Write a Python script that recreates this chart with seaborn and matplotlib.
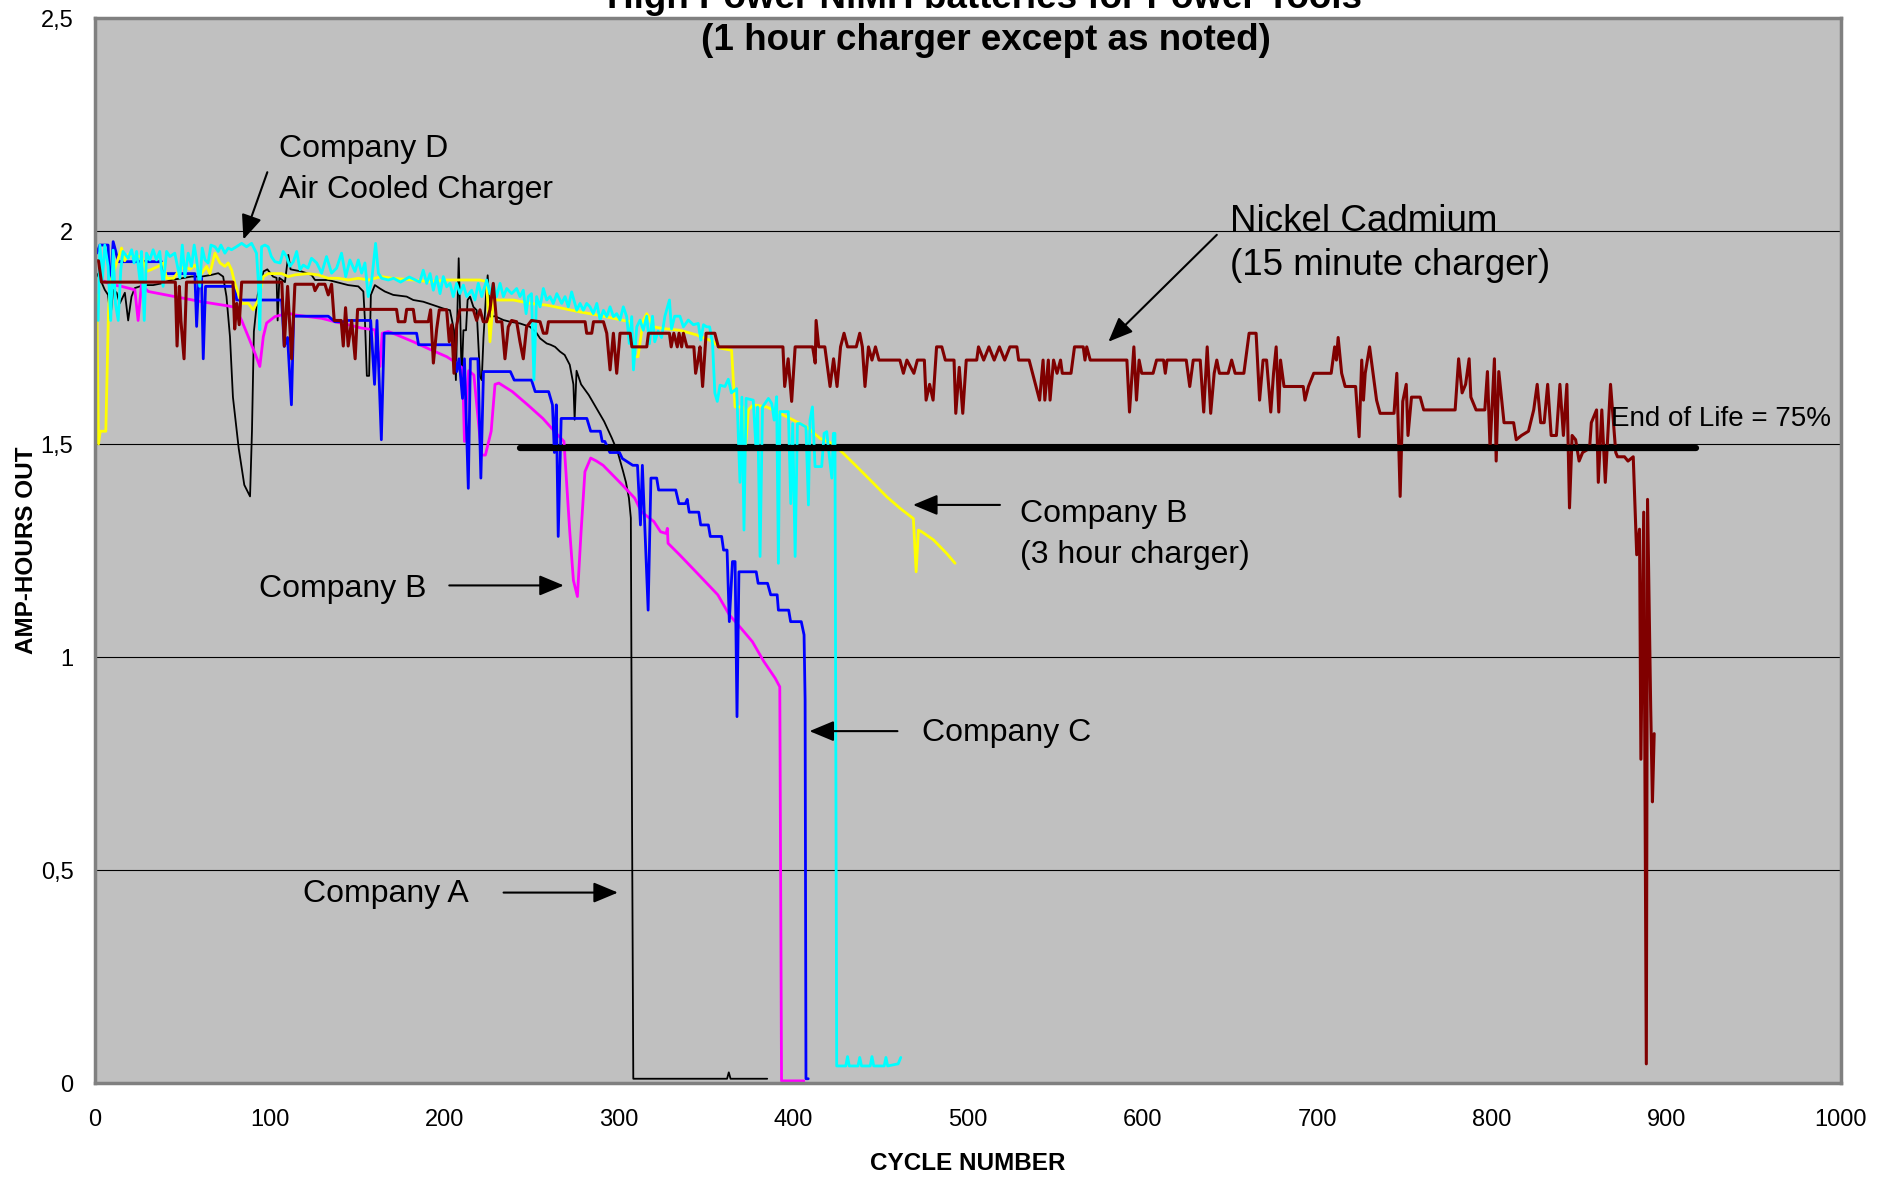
import matplotlib
matplotlib.use("Agg")
import matplotlib.pyplot as plt
import pandas as pd
import seaborn as sns

# ---------------- data (cycle number, amp-hours out) ----------------
company_a = [
    (1, 1.90), (3.7, 1.88), (5.6, 1.862), (7.5, 1.85), (8.8, 1.795), (10.4, 1.862), (12.4, 1.855),
    (14.2, 1.83), (17.1, 1.855), (19, 1.79), (20.9, 1.846), (22.8, 1.866), (25.7, 1.87), (28.6, 1.873),
    (33.3, 1.873), (38.1, 1.877), (43.8, 1.885), (49.6, 1.889), (55.3, 1.893), (61, 1.893), (66.7, 1.897),
    (70.6, 1.901), (73.4, 1.893), (75.3, 1.846), (77.3, 1.752), (79, 1.61), (82.3, 1.49), (85.5, 1.404),
    (88.8, 1.377), (89.9, 1.53), (91, 1.764), (93.2, 1.85), (96.5, 1.905), (98.7, 1.91), (102, 1.893),
    (104, 1.89), (104.6, 1.79), (105.6, 1.89), (108.8, 1.88), (110.7, 1.944), (112, 1.91), (118.3, 1.905),
    (124, 1.897), (126, 1.885), (133.6, 1.885), (137.4, 1.881), (145, 1.873), (150.8, 1.87), (153.7, 1.858),
    (154.6, 1.79), (155.7, 1.66), (157, 1.66), (158, 1.85), (160.3, 1.873), (163.2, 1.865), (166, 1.858),
    (170.8, 1.85), (178.5, 1.846), (182.3, 1.838), (188, 1.834), (193.8, 1.826), (199.5, 1.818),
    (203.3, 1.814), (205.6, 1.767), (206.7, 1.65), (207.5, 1.80), (208.3, 1.936), (209.2, 1.80), (210, 1.65),
    (211, 1.767), (212.5, 1.767), (213.4, 1.838), (214.8, 1.846), (216.7, 1.822), (218.6, 1.814),
    (220.5, 1.658), (221.5, 1.65), (222.5, 1.75), (223.9, 1.846), (224.9, 1.896), (226.2, 1.799),
    (229.1, 1.80), (233.9, 1.791), (237.7, 1.787), (243.4, 1.783), (249.2, 1.775), (253, 1.76),
    (254.9, 1.748), (258.7, 1.736), (260.9, 1.733), (263.5, 1.728), (266.3, 1.717), (269, 1.709),
    (271.9, 1.686), (274, 1.64), (274.7, 1.557), (275.8, 1.672), (278.4, 1.64), (282.8, 1.615),
    (287.2, 1.584), (291.6, 1.553), (296, 1.514), (299.3, 1.482), (302.5, 1.435), (304.1, 1.41),
    (305.8, 1.373), (306.9, 1.326), (307.6, 0.6), (308.3, 0.01), (362, 0.01), (363, 0.025), (364, 0.01),
    (385, 0.01),
]

company_b = [
    (3.7, 1.885), (9.4, 1.874), (15.2, 1.87), (19, 1.866), (22.8, 1.862), (24.7, 1.79), (26.6, 1.874),
    (30.5, 1.858), (38.1, 1.852), (45.7, 1.846), (53.4, 1.84), (61, 1.834), (68.7, 1.829), (76.3, 1.824),
    (80.1, 1.821), (84, 1.79), (87.8, 1.752), (91.6, 1.713), (94.4, 1.682), (96.4, 1.752), (98.3, 1.784),
    (103, 1.799), (106.9, 1.803), (110.7, 1.807), (114.5, 1.803), (122.1, 1.799), (129.8, 1.795),
    (137.4, 1.787), (145, 1.78), (152.7, 1.772), (160.3, 1.768), (163.2, 1.682), (164.5, 1.76),
    (168, 1.764), (171.8, 1.758), (182.3, 1.74), (191.9, 1.722), (201.4, 1.705), (206, 1.693),
    (210.5, 1.678), (211.6, 1.506), (212.7, 1.60), (214, 1.672), (217, 1.662), (221.4, 1.474),
    (223.6, 1.474), (226.9, 1.53), (229.1, 1.64), (231.3, 1.643), (239, 1.623), (247.8, 1.592),
    (256.5, 1.56), (265.3, 1.52), (268.6, 1.506), (271.9, 1.295), (274, 1.18), (276.3, 1.142),
    (278.4, 1.295), (280.6, 1.435), (283.9, 1.467), (287.2, 1.46), (291, 1.45), (298.2, 1.42),
    (302, 1.404), (309.1, 1.373), (312.9, 1.341), (320.1, 1.318), (323.9, 1.294), (327.1, 1.29),
    (327.8, 1.302), (328.2, 1.267), (334.8, 1.24), (345.8, 1.193), (356.7, 1.146), (363.3, 1.099),
    (369.9, 1.068), (376.5, 1.036), (383, 0.99), (389.6, 0.95), (392.2, 0.93), (393.2, 0.005),
    (406, 0.005),
]

company_c = [
    (1, 1.948), (2.8, 1.967), (7.5, 1.967), (8.5, 1.846), (10.4, 1.975), (11.7, 1.955), (13.3, 1.928),
    (38.1, 1.928), (39, 1.90), (57.2, 1.90), (58.2, 1.776), (59.5, 1.89), (61, 1.89), (62, 1.70),
    (63.3, 1.87), (80.1, 1.87), (81.1, 1.838), (106.9, 1.838), (108.4, 1.729), (110.3, 1.75),
    (112.5, 1.592), (113.8, 1.80), (133.6, 1.80), (137.4, 1.787), (142.2, 1.787), (144.7, 1.79),
    (157.9, 1.79), (160.1, 1.64), (161.5, 1.79), (164, 1.51), (165.6, 1.76), (184.2, 1.76),
    (185.3, 1.733), (205, 1.733), (207.2, 1.67), (208.5, 1.70), (210.5, 1.607), (211.6, 1.70),
    (213.8, 1.396), (215, 1.70), (219.3, 1.70), (221, 1.42), (222.5, 1.67), (237.9, 1.67), (240.1, 1.65),
    (250, 1.65), (252.1, 1.623), (259.8, 1.623), (262, 1.592), (263.1, 1.48), (264.2, 1.592),
    (265.3, 1.283), (267, 1.56), (281.7, 1.56), (283.9, 1.53), (289.4, 1.53), (290.5, 1.506),
    (292, 1.506), (294.9, 1.48), (300.4, 1.48), (302, 1.466), (308, 1.45), (310.7, 1.45), (312.4, 1.31),
    (313.5, 1.45), (316.8, 1.11), (318.4, 1.42), (321.7, 1.42), (322.8, 1.392), (332.6, 1.392),
    (334.4, 1.36), (338.1, 1.36), (339.2, 1.37), (340.3, 1.34), (345.8, 1.34), (346.9, 1.31),
    (351.3, 1.31), (352.4, 1.283), (358.9, 1.283), (360, 1.251), (362, 1.251), (363.3, 1.083),
    (365.1, 1.224), (366.6, 1.224), (367.7, 0.86), (368.8, 1.20), (378.7, 1.20), (379.8, 1.173),
    (385.2, 1.173), (387, 1.146), (390.7, 1.146), (391.4, 1.11), (397.3, 1.11), (398.4, 1.083),
    (404.5, 1.083), (406.1, 1.052), (406.7, 0.90), (407.2, 0.01), (408.5, 0.01),
]

company_b_3h = [
    (1, 1.85), (2, 1.50), (3, 1.53), (6.2, 1.53), (7.7, 1.81), (8.8, 1.88), (12, 1.92), (15.2, 1.96),
    (17, 1.93), (19, 1.945), (22, 1.94), (26.6, 1.94), (29.5, 1.905), (32.5, 1.91), (36.2, 1.917),
    (39, 1.925), (41, 1.889), (45, 1.889), (48.6, 1.91), (51.5, 1.917), (54.4, 1.91), (57.2, 1.92),
    (61, 1.90), (63.9, 1.917), (65.8, 1.90), (68.7, 1.948), (71.6, 1.925), (74.4, 1.917), (76.3, 1.925),
    (78.2, 1.909), (80.1, 1.877), (84, 1.83), (87.8, 1.83), (90.6, 1.815), (93.5, 1.838), (96.4, 1.893),
    (99.2, 1.90), (106.9, 1.90), (110.7, 1.893), (114.5, 1.897), (122, 1.90), (127.8, 1.897),
    (133.6, 1.889), (139.3, 1.889), (145, 1.885), (150.8, 1.889), (156.5, 1.885), (164, 1.893),
    (170, 1.889), (182.3, 1.885), (191.9, 1.881), (201.4, 1.885), (211, 1.885), (220.5, 1.885),
    (224.3, 1.881), (226.2, 1.74), (228.1, 1.838), (239.6, 1.838), (249.2, 1.83), (258.7, 1.826),
    (268.3, 1.818), (277.8, 1.81), (287.4, 1.803), (296.9, 1.795), (306.5, 1.787), (308.4, 1.705),
    (311, 1.705), (314, 1.79), (316, 1.806), (319.8, 1.775), (325.5, 1.771), (335, 1.767),
    (344.6, 1.756), (354.2, 1.74), (358, 1.725), (364.6, 1.72), (365.6, 1.65), (366.6, 1.587),
    (371, 1.587), (372.3, 1.478), (374.2, 1.58), (377, 1.592), (384.7, 1.587), (392.3, 1.572),
    (400, 1.556), (407.6, 1.54), (415.3, 1.513), (422.9, 1.50), (428.6, 1.478), (436.3, 1.447),
    (445.8, 1.408), (453.5, 1.376), (461.1, 1.349), (468.7, 1.325), (470.3, 1.20), (471.6, 1.298),
    (473.5, 1.294), (480.2, 1.275), (487.8, 1.243), (492.6, 1.22),
]

company_d = [
    (1.8, 1.79), (2.8, 1.967), (4.2, 1.885), (5.6, 1.967), (7.5, 1.917), (9, 1.79), (10.4, 1.955),
    (11.7, 1.83), (13.3, 1.79), (14.8, 1.91), (16, 1.952), (19, 1.936), (21, 1.956), (22.4, 1.925),
    (23.8, 1.952), (25.7, 1.885), (26.6, 1.952), (28.2, 1.79), (29.5, 1.948), (31.4, 1.932),
    (33.3, 1.956), (35.2, 1.932), (37.1, 1.952), (39, 1.87), (41, 1.952), (42.9, 1.94), (45.7, 1.948),
    (48.6, 1.89), (50, 1.967), (51.5, 1.893), (53.4, 1.948), (55.3, 1.917), (56.8, 1.967), (58.2, 1.932),
    (60, 1.87), (61.4, 1.96), (63, 1.932), (64.8, 1.925), (66.4, 1.967), (68.7, 1.963), (70.6, 1.952),
    (72.1, 1.967), (74.4, 1.948), (76.3, 1.96), (78.2, 1.956), (81, 1.963), (84, 1.971), (86.8, 1.963),
    (89.7, 1.971), (92.5, 1.948), (93.5, 1.885), (94.4, 1.768), (95.4, 1.963), (97.3, 1.967),
    (99.2, 1.963), (101, 1.94), (103, 1.928), (106, 1.925), (107.8, 1.952), (109.7, 1.94), (111.6, 1.917),
    (113.6, 1.928), (115.5, 1.952), (117.4, 1.909), (119.3, 1.92), (122, 1.913), (124, 1.936),
    (127, 1.925), (129.8, 1.901), (132.6, 1.94), (135.5, 1.901), (138.4, 1.913), (141.2, 1.948),
    (143.6, 1.893), (146, 1.932), (148.9, 1.905), (150.8, 1.932), (152.7, 1.901), (154.6, 1.925),
    (156.5, 1.846), (158.5, 1.885), (160.7, 1.971), (162.3, 1.901), (164.2, 1.889), (168, 1.885),
    (171, 1.889), (175, 1.88), (180, 1.892), (186, 1.88), (188, 1.908), (190, 1.877), (191.9, 1.90),
    (193.8, 1.861), (195.7, 1.893), (197.6, 1.853), (199.5, 1.893), (201.4, 1.869), (203.3, 1.877),
    (205.2, 1.846), (207.1, 1.877), (209, 1.853), (211, 1.873), (212.9, 1.846), (215.7, 1.861),
    (217.6, 1.838), (219.5, 1.877), (221.5, 1.846), (224.3, 1.885), (226.2, 1.853), (228.1, 1.877),
    (230, 1.846), (232, 1.877), (233.9, 1.846), (235.8, 1.865), (238.6, 1.853), (241.5, 1.865),
    (243.4, 1.846), (245.3, 1.861), (246.9, 1.806), (248.2, 1.846), (250, 1.853), (251.4, 1.65),
    (252.9, 1.846), (254.9, 1.822), (256.8, 1.865), (258.7, 1.838), (260.6, 1.846), (262.5, 1.83),
    (264.5, 1.853), (267.3, 1.83), (269.2, 1.846), (271.1, 1.822), (273, 1.857), (275.9, 1.814),
    (277.8, 1.83), (279.7, 1.814), (281.6, 1.83), (283.5, 1.822), (285.4, 1.806), (287.4, 1.83),
    (289.3, 1.791), (291.2, 1.814), (293.1, 1.799), (295, 1.822), (296.9, 1.799), (298.8, 1.806),
    (300.7, 1.791), (302.6, 1.822), (304.5, 1.799), (306, 1.736), (307.4, 1.799), (308.4, 1.674),
    (310.3, 1.775), (312.2, 1.791), (314, 1.767), (316, 1.80), (317.5, 1.735), (319.3, 1.80),
    (320.6, 1.74), (322.5, 1.765), (324.5, 1.75), (326.4, 1.80), (329, 1.838), (330.2, 1.77),
    (332, 1.80), (335, 1.80), (337, 1.775), (339.8, 1.791), (342.7, 1.78), (345.5, 1.783),
    (347, 1.744), (348.5, 1.78), (350.3, 1.775), (352, 1.775), (353.7, 1.736), (355, 1.62),
    (356.4, 1.60), (358, 1.638), (360.8, 1.635), (362.7, 1.652), (364.5, 1.62), (367.5, 1.63),
    (369.4, 1.41), (370.5, 1.61), (371.7, 1.298), (372.9, 1.607), (377, 1.603), (378.5, 1.494),
    (379.5, 1.587), (380.9, 1.236), (382.3, 1.587), (385.7, 1.607), (387.6, 1.595), (389, 1.556),
    (390.4, 1.611), (391.4, 1.22), (392.3, 1.576), (397.1, 1.576), (398.5, 1.36), (399.6, 1.548),
    (401, 1.236), (402.3, 1.548), (403.8, 1.548), (407.2, 1.54), (408.6, 1.357), (409.5, 1.556),
    (410.9, 1.587), (412.4, 1.447), (416.2, 1.447), (417.6, 1.525), (419.1, 1.529), (420.6, 1.47),
    (422, 1.42), (422.9, 1.525), (423.8, 1.525), (424.8, 0.04), (430, 0.04), (431, 0.062), (432, 0.04),
    (437, 0.04), (438, 0.06), (439, 0.04), (444, 0.04), (445, 0.062), (446, 0.04), (452, 0.04),
    (453, 0.06), (454, 0.04), (460, 0.045), (461.5, 0.06),
]

nickel_cadmium = [
    (0.5, 1.93), (2, 1.93), (3.7, 1.88), (46, 1.88), (47, 1.73), (48.3, 1.87), (49.2, 1.79), (51, 1.70),
    (52.4, 1.88), (79, 1.88), (80, 1.77), (81.2, 1.83), (82.6, 1.78), (84, 1.88), (107, 1.88),
    (108.4, 1.73), (110.3, 1.87), (112.6, 1.70), (114.5, 1.875), (125, 1.875), (126, 1.86), (128, 1.875),
    (131.7, 1.875), (133.6, 1.85), (135.5, 1.875), (137, 1.79), (141, 1.79), (142.2, 1.73), (143.5, 1.82),
    (145, 1.73), (147, 1.79), (149, 1.70), (150.4, 1.816), (172.7, 1.816), (173.7, 1.787), (177.5, 1.787),
    (178.5, 1.816), (182.3, 1.816), (183.3, 1.787), (190.9, 1.787), (192.2, 1.815), (193.8, 1.69),
    (195.7, 1.77), (197.2, 1.815), (201.4, 1.815), (202.9, 1.74), (204.3, 1.78), (205.6, 1.666),
    (207.2, 1.78), (209, 1.815), (216.7, 1.815), (218.6, 1.79), (220.5, 1.815), (222.4, 1.787),
    (224.3, 1.787), (226.2, 1.815), (228.1, 1.877), (230, 1.787), (233, 1.787), (234.8, 1.70),
    (236.7, 1.775), (238.6, 1.79), (241.5, 1.787), (243.4, 1.74), (245.3, 1.70), (247.2, 1.775),
    (250, 1.79), (254.9, 1.787), (256.8, 1.76), (258.7, 1.76), (259.7, 1.787), (280.7, 1.787),
    (281.6, 1.76), (284.5, 1.76), (285.5, 1.787), (291.2, 1.787), (293.1, 1.76), (295, 1.674),
    (296.9, 1.76), (298.8, 1.666), (300.7, 1.76), (306.5, 1.76), (307.5, 1.728), (316, 1.728),
    (317, 1.76), (329, 1.76), (330, 1.728), (331.5, 1.76), (333.5, 1.728), (334.5, 1.76), (336, 1.728),
    (337, 1.76), (339, 1.728), (343, 1.728), (344, 1.666), (345.5, 1.70), (346.5, 1.728), (348, 1.635),
    (350, 1.76), (355, 1.76), (357, 1.728), (394, 1.728), (395, 1.635), (397, 1.70), (399, 1.60),
    (401, 1.728), (411, 1.728), (412.5, 1.69), (413, 1.79), (414.5, 1.728), (418, 1.728), (421, 1.635),
    (423, 1.70), (425, 1.635), (427, 1.728), (429, 1.76), (431, 1.728), (436, 1.728), (438, 1.76),
    (439.5, 1.728), (441, 1.635), (443, 1.728), (445, 1.697), (447, 1.728), (449, 1.697), (461, 1.697),
    (463, 1.666), (465, 1.697), (469, 1.666), (471, 1.697), (475, 1.697), (476, 1.603), (478, 1.64),
    (480, 1.603), (482, 1.728), (485, 1.728), (487, 1.697), (492, 1.697), (493, 1.572), (495, 1.68),
    (497, 1.572), (499, 1.697), (505, 1.697), (506, 1.728), (509, 1.697), (512, 1.728), (515, 1.697),
    (518, 1.728), (521, 1.697), (524, 1.728), (528, 1.728), (529, 1.697), (535, 1.697), (541, 1.603),
    (543, 1.697), (544, 1.603), (546, 1.697), (547, 1.603), (549, 1.697), (551, 1.666), (553, 1.697),
    (554, 1.666), (559, 1.666), (561, 1.728), (566, 1.728), (567, 1.697), (568, 1.728), (570, 1.697),
    (591, 1.697), (592.5, 1.575), (595, 1.728), (596.5, 1.603), (598, 1.697), (599.5, 1.666),
    (606, 1.666), (608, 1.697), (612, 1.697), (613, 1.666), (614, 1.697), (625, 1.697), (627, 1.635),
    (629, 1.697), (633, 1.697), (635, 1.575), (637, 1.728), (639, 1.572), (641, 1.666), (642.5, 1.697),
    (644, 1.666), (649, 1.666), (651, 1.697), (653, 1.666), (658, 1.666), (661, 1.76), (665, 1.76),
    (667, 1.603), (669, 1.697), (671, 1.697), (673.4, 1.575), (675, 1.666), (676.5, 1.728), (678, 1.575),
    (679, 1.697), (681, 1.635), (692, 1.635), (693, 1.603), (695, 1.635), (698, 1.666), (708, 1.666),
    (710, 1.728), (711, 1.697), (712, 1.75), (714, 1.666), (716, 1.635), (722, 1.635), (724, 1.517),
    (725.5, 1.697), (726.5, 1.603), (727.5, 1.666), (730, 1.728), (732, 1.666), (734, 1.603),
    (736, 1.572), (744, 1.572), (745.6, 1.666), (747.5, 1.377), (749, 1.60), (751, 1.64), (752, 1.52),
    (754, 1.61), (759, 1.61), (761, 1.58), (779, 1.58), (781, 1.70), (783, 1.62), (785, 1.64), (787, 1.70),
    (788, 1.61), (791, 1.58), (796, 1.58), (797.5, 1.67), (799, 1.49), (801.5, 1.70), (802.5, 1.46),
    (804, 1.67), (807, 1.55), (812.5, 1.55), (814, 1.51), (817, 1.52), (821, 1.53), (824, 1.58),
    (826, 1.64), (828, 1.55), (830, 1.55), (832, 1.64), (834, 1.52), (837, 1.52), (839, 1.64), (841, 1.52),
    (843, 1.64), (844.5, 1.35), (846, 1.52), (848, 1.51), (850, 1.46), (852, 1.48), (856, 1.49),
    (857, 1.55), (860, 1.58), (861, 1.41), (863, 1.58), (865, 1.41), (868, 1.64), (871, 1.48),
    (872, 1.47), (876, 1.47), (878, 1.46), (881, 1.47), (883, 1.24), (884.6, 1.30), (885.4, 0.76),
    (887, 1.34), (888.5, 0.045), (889.2, 1.37), (891, 0.88), (892, 0.66), (893, 0.82),
]

end_of_life_level = 1.49
end_of_life_span = [243.5, 917.0]

x_ticks = [0, 100, 200, 300, 400, 500, 600, 700, 800, 900, 1000]
y_ticks = [0, 0.5, 1.0, 1.5, 2.0, 2.5]
y_tick_labels = ["0", "0,5", "1", "1,5", "2", "2,5"]

title_lines = ["High Power NiMH batteries for Power Tools", "(1 hour charger except as noted)"]

# ---------------- style ----------------
sns.set_style("white")
plt.rcParams['font.family'] = ['Liberation Sans', 'DejaVu Sans']
plt.rcParams['text.color'] = 'black'
plt.rcParams['axes.labelcolor'] = 'black'
plt.rcParams['xtick.color'] = 'black'
plt.rcParams['ytick.color'] = 'black'

W, H = 1889, 1178
fig = plt.figure(figsize=(W / 100, H / 100), dpi=100)
ax = fig.add_axes([95 / W, 1 - 1083 / H, 1746 / W, 1065 / H])
ax.set_facecolor('#C0C0C0')

series = [
    ("Company A", company_a, "#000000", 1.3),
    ("Company B", company_b, "#FF00FF", 2.0),
    ("Company C", company_c, "#0000FF", 2.0),
    ("Company B (3 hour charger)", company_b_3h, "#FFFF00", 2.0),
    ("Company D", company_d, "#00FFFF", 2.0),
    ("Nickel Cadmium", nickel_cadmium, "#800000", 2.2),
]
for name, pts, col, lw in series:
    df = pd.DataFrame(pts, columns=["cycle", "ah"])
    sns.lineplot(data=df, x="cycle", y="ah", color=col, linewidth=lw,
                 estimator=None, sort=False, ax=ax, legend=False)

eol = pd.DataFrame({"cycle": end_of_life_span, "ah": [end_of_life_level] * 2})
sns.lineplot(data=eol, x="cycle", y="ah", color="black", linewidth=4.5,
             estimator=None, sort=False, ax=ax, legend=False,
             solid_capstyle="round", zorder=5)

ax.set_xlim(0, 1000)
ax.set_ylim(0, 2.5)
ax.set_xticks(x_ticks)
ax.set_xticklabels([str(t) for t in x_ticks])
ax.set_yticks(y_ticks)
ax.set_yticklabels(y_tick_labels)
ax.tick_params(axis='both', which='major', direction='out', length=6, width=1.2,
               color='#404040', labelsize=17, labelcolor='black', pad=9.5)
ax.tick_params(axis='x', pad=13)
ax.yaxis.grid(True, color='black', linewidth=0.8)
ax.xaxis.grid(False)
ax.set_axisbelow(True)
for s in ax.spines.values():
    s.set_color('#808080')
    s.set_linewidth(2.5)

ax.set_xlabel("CYCLE NUMBER", fontsize=17.5, fontweight='bold', color='black')
ax.set_ylabel("AMP-HOURS OUT", fontsize=17.5, fontweight='bold', color='black')
ax.xaxis.set_label_coords(0.5, (1083 - 1163) / 1065)
ax.xaxis.label.set_va('center')
ax.yaxis.set_label_coords((26.5 - 95) / 1746, 0.5)
ax.yaxis.label.set_va('center')

# title (first line partly cut off at the top, as in the original)
fig.text(0.521, 1 - 8 / H, title_lines[0], ha='center', va='baseline', fontsize=26.5,
         fontweight='bold', color='black')
fig.text(0.522, 1 - 50 / H, title_lines[1], ha='center', va='baseline', fontsize=26.5,
         fontweight='bold', color='black')

# annotations
dy = -0.008
lab = dict(fontsize=23, ha='left', va='center', color='black')
ax.text(105.6, 2.200 + dy, "Company D", **lab)
ax.text(105.6, 2.104 + dy, "Air Cooled Charger", **lab)
ax.text(650.1, 2.031 + dy, "Nickel Cadmium", fontsize=26.5, ha='left', va='center', color='black')
ax.text(650.1, 1.926 + dy, "(15 minute charger)", fontsize=26.5, ha='left', va='center', color='black')
ax.text(530.0, 1.343 + dy, "Company B", **lab)
ax.text(530.0, 1.247 + dy, "(3 hour charger)", **lab)
ax.text(93.9, 1.168 + dy, "Company B", **lab)
ax.text(473.4, 0.829 + dy, "Company C", **lab)
ax.text(119.4, 0.452 + dy, "Company A", **lab)
ax.text(868.2, 1.567 + dy, "End of Life = 75%", fontsize=20, ha='left', va='center', color='black')

arrow = dict(arrowstyle='-|>,head_length=0.6,head_width=0.25', mutation_scale=25,
             color='black', lw=1.5, shrinkA=0, shrinkB=0)
arrows = [
    ((98.7, 2.138), (85.0, 1.980)),
    ((642.5, 1.991), (580.4, 1.740)),
    ((518.3, 1.357), (468.5, 1.357)),
    ((202.9, 1.168), (268.5, 1.168)),
    ((459.6, 0.826), (409.2, 0.826)),
    ((234.0, 0.447), (299.5, 0.447)),
]
for tail, tip in arrows:
    ax.annotate("", xy=tip, xytext=tail, arrowprops=arrow, zorder=6)

fig.savefig("out.png", dpi=100)
